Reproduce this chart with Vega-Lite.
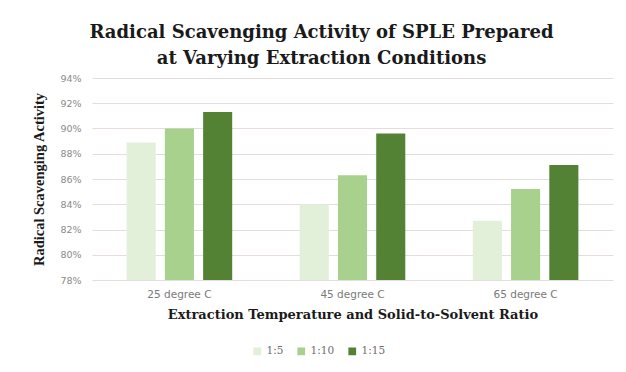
{
  "$schema": "https://vega.github.io/schema/vega-lite/v6.json",
  "autosize": {"type": "none"},
  "width": 521,
  "height": 202,
  "padding": {"left": 92, "top": 78, "right": 13, "bottom": 92},
  "background": "#ffffff",
  "title": {
    "text": ["Radical Scavenging Activity of SPLE Prepared", "at Varying Extraction Conditions"],
    "font": "DejaVu Serif",
    "fontSize": 18,
    "fontWeight": "bold",
    "color": "#1a1a1a",
    "lineHeight": 26,
    "anchor": "middle",
    "dx": -31,
    "offset": 5
  },
  "data": {
    "values": [
      {"temp": "25 degree C", "ratio": "1:5", "activity": 0.889},
      {"temp": "25 degree C", "ratio": "1:10", "activity": 0.900},
      {"temp": "25 degree C", "ratio": "1:15", "activity": 0.913},
      {"temp": "45 degree C", "ratio": "1:5", "activity": 0.840},
      {"temp": "45 degree C", "ratio": "1:10", "activity": 0.863},
      {"temp": "45 degree C", "ratio": "1:15", "activity": 0.896},
      {"temp": "65 degree C", "ratio": "1:5", "activity": 0.827},
      {"temp": "65 degree C", "ratio": "1:10", "activity": 0.852},
      {"temp": "65 degree C", "ratio": "1:15", "activity": 0.871}
    ]
  },
  "mark": {"type": "bar", "clip": true},
  "encoding": {
    "x": {
      "field": "temp",
      "type": "nominal",
      "sort": null,
      "scale": {"paddingInner": 0.39, "paddingOuter": 0.2},
      "axis": {
        "title": "Extraction Temperature and Solid-to-Solvent Ratio",
        "titleFont": "DejaVu Serif",
        "titleFontSize": 13,
        "titleFontWeight": "bold",
        "titleColor": "#1a1a1a",
        "titlePadding": 9,
        "labelAngle": 0,
        "labelFont": "DejaVu Sans",
        "labelFontSize": 10.5,
        "labelColor": "#7a7a7a",
        "labelPadding": 9,
        "ticks": false,
        "domain": false
      }
    },
    "xOffset": {
      "field": "ratio",
      "type": "nominal",
      "sort": ["1:5", "1:10", "1:15"],
      "scale": {"paddingInner": 0.24, "paddingOuter": 0}
    },
    "y": {
      "field": "activity",
      "type": "quantitative",
      "scale": {"domain": [0.78, 0.94], "zero": false, "nice": false},
      "axis": {
        "title": "Radical Scavenging Activity",
        "titleFont": "Liberation Serif",
        "titleFontSize": 14.5,
        "titleFontWeight": "bold",
        "titleColor": "#1a1a1a",
        "titlePadding": 13,
        "format": ".0%",
        "values": [0.78, 0.80, 0.82, 0.84, 0.86, 0.88, 0.90, 0.92, 0.94],
        "labelFont": "DejaVu Sans",
        "labelFontSize": 9.5,
        "labelColor": "#8a8a8a",
        "labelPadding": 11,
        "ticks": false,
        "domain": false,
        "grid": true,
        "gridColor": "#e6dcdc",
        "gridWidth": 1
      }
    },
    "color": {
      "field": "ratio",
      "type": "nominal",
      "sort": ["1:5", "1:10", "1:15"],
      "scale": {"domain": ["1:5", "1:10", "1:15"], "range": ["#e2efd9", "#a9d18e", "#548235"]},
      "legend": {
        "title": null,
        "orient": "none",
        "legendX": 160,
        "legendY": 268,
        "direction": "horizontal",
        "symbolType": "square",
        "symbolSize": 60,
        "symbolStrokeWidth": 0,
        "labelFont": "DejaVu Serif",
        "labelFontSize": 10.5,
        "labelColor": "#6e6e6e",
        "columnPadding": 12
      }
    }
  },
  "config": {
    "view": {"stroke": null}
  }
}
